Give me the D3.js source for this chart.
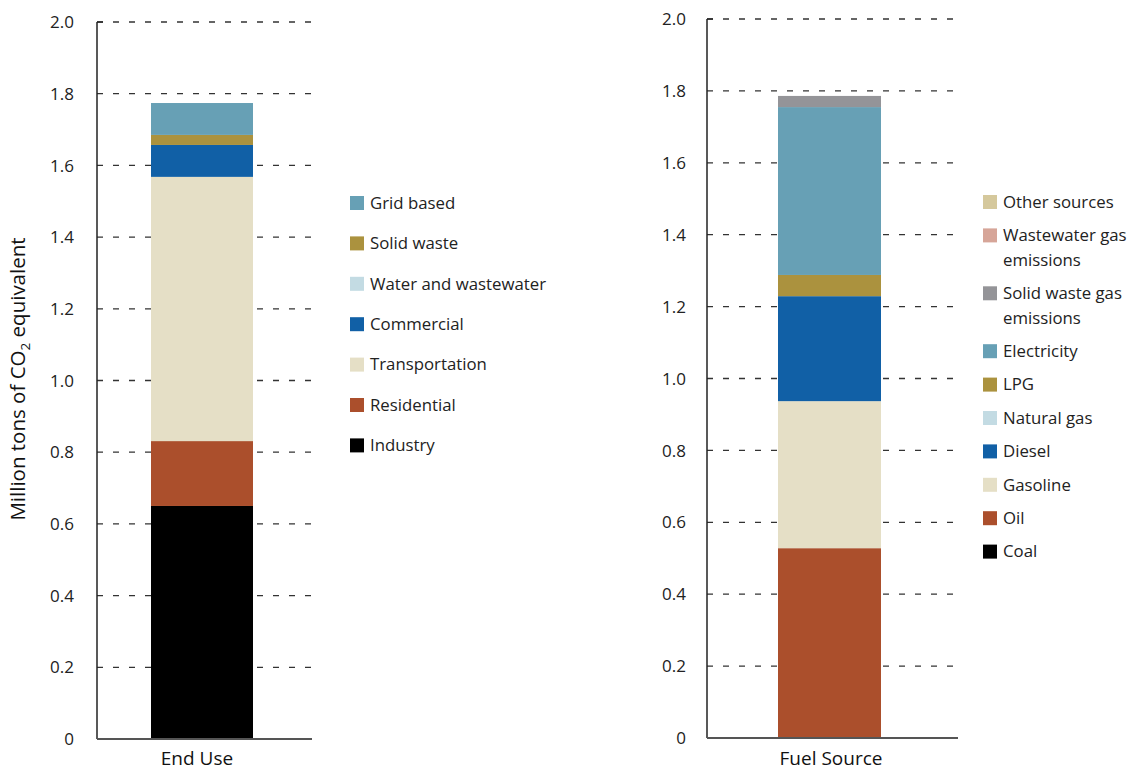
<!DOCTYPE html>
<html>
<head>
<meta charset="utf-8">
<script src="https://cdn.jsdelivr.net/npm/d3@7"></script>
<style>
  body { margin: 0; background: #fff; }
  svg { display: block; font-family: "Open Sans", "Noto Sans", sans-serif; }
  .tick-label { font-size: 17px; fill: #222; }
  .legend-label { font-size: 16.8px; fill: #222; }
  .cat-label { font-size: 19px; fill: #111; }
  .grid { stroke: #333; stroke-width: 1.3; stroke-dasharray: 6 10; }
</style>
</head>
<body>
<svg id="chart" width="1132" height="772"></svg>
<script>
// ---- data ----
const yTicks = [0, 0.2, 0.4, 0.6, 0.8, 1.0, 1.2, 1.4, 1.6, 1.8, 2.0];

// End Use (bottom to top)
const endUseKeys   = ['Industry', 'Residential', 'Transportation', 'Commercial', 'Water and wastewater', 'Solid waste', 'Grid based'];
const endUseValues = [0.650, 0.181, 0.737, 0.089, 0.0, 0.028, 0.089];
const endUseColors = ['#000000', '#ab4f2c', '#e5dfc6', '#1160a6', '#c3dbe3', '#ab923e', '#67a0b5'];

// Fuel Source (bottom to top)
const fuelKeys   = ['Coal', 'Oil', 'Gasoline', 'Diesel', 'Natural gas', 'LPG', 'Electricity', 'Solid waste gas emissions', 'Wastewater gas emissions', 'Other sources'];
const fuelLabels = [['Coal'], ['Oil'], ['Gasoline'], ['Diesel'], ['Natural gas'], ['LPG'], ['Electricity'], ['Solid waste gas', 'emissions'], ['Wastewater gas', 'emissions'], ['Other sources']];
const fuelValues = [0.0, 0.528, 0.409, 0.292, 0.0, 0.059, 0.467, 0.031, 0.0, 0.0];
const fuelColors = ['#000000', '#ab4f2c', '#e5dfc6', '#1160a6', '#c3dbe3', '#ab923e', '#67a0b5', '#949498', '#d6a598', '#d5c89c'];

const svg = d3.select('#chart');

function drawPanel(opts) {
  const g = svg.append('g');
  const y = d3.scaleLinear().domain([0, 2]).range([opts.bottom, opts.top]);
  const x = d3.scaleBand().domain([opts.category]).range(opts.barRange).padding(0);

  // dashed gridlines
  g.selectAll('.grid')
    .data(yTicks.filter(d => d > 0))
    .join('line')
    .attr('class', 'grid')
    .attr('x1', opts.left).attr('x2', opts.gridRight)
    .attr('y1', d => y(d)).attr('y2', d => y(d));

  // stacked bar
  const stacked = d3.stack().keys(d3.range(opts.values.length))([opts.values]);
  g.selectAll('.seg')
    .data(stacked)
    .join('rect')
    .attr('class', 'seg')
    .attr('x', x(opts.category))
    .attr('width', x.bandwidth())
    .attr('y', d => y(d[0][1]))
    .attr('height', d => y(d[0][0]) - y(d[0][1]))
    .attr('fill', (d, i) => opts.colors[i]);

  // axes
  g.append('line')
    .attr('x1', opts.left).attr('x2', opts.left)
    .attr('y1', y(2)).attr('y2', y(0))
    .attr('stroke', '#222').attr('stroke-width', 1.5);
  g.append('line')
    .attr('x1', opts.left).attr('x2', opts.right)
    .attr('y1', y(0)).attr('y2', y(0))
    .attr('stroke', '#555').attr('stroke-width', 2);
  g.append('line')
    .attr('x1', opts.left).attr('x2', opts.left + 6)
    .attr('y1', y(2)).attr('y2', y(2))
    .attr('stroke', '#222').attr('stroke-width', 1.3);

  g.selectAll('.tick-label')
    .data(yTicks)
    .join('text')
    .attr('class', 'tick-label')
    .attr('x', opts.labelRight)
    .attr('y', d => y(d))
    .attr('dy', '0.36em')
    .attr('text-anchor', 'end')
    .text(d => d === 0 ? '0' : d3.format('.1f')(d));

  g.append('text')
    .attr('class', 'cat-label')
    .attr('x', opts.catX)
    .attr('y', 765)
    .attr('text-anchor', 'middle')
    .text(opts.category);

  // legend (top item first)
  const items = opts.keys.map((k, i) => ({ lines: opts.labels[i], color: opts.colors[i] })).reverse();
  let ly = opts.legendTop;
  items.forEach(it => {
    const lg = g.append('g').attr('transform', `translate(${opts.legendX},${ly})`);
    lg.append('rect').attr('x', 0).attr('y', -7).attr('width', 14).attr('height', 14).attr('fill', it.color);
    lg.append('text')
      .attr('class', 'legend-label')
      .attr('x', 20)
      .selectAll('tspan')
      .data(it.lines)
      .join('tspan')
      .attr('x', 20)
      .attr('y', (d, j) => j * opts.lineH)
      .attr('dy', '0.35em')
      .text(d => d);
    ly += opts.itemGap + (it.lines.length - 1) * opts.lineH;
  });
}

drawPanel({
  category: 'End Use', keys: endUseKeys, labels: endUseKeys.map(d => [d]),
  values: endUseValues, colors: endUseColors,
  left: 97, right: 312, gridRight: 313, top: 22, bottom: 739, barRange: [151, 253],
  labelRight: 74, catX: 197,
  legendX: 350, legendTop: 203, itemGap: 40.4, lineH: 24
});

drawPanel({
  category: 'Fuel Source', keys: fuelKeys, labels: fuelLabels,
  values: fuelValues, colors: fuelColors,
  left: 707, right: 958, gridRight: 955, top: 19, bottom: 738, barRange: [778, 881],
  labelRight: 686, catX: 831,
  legendX: 983, legendTop: 202, itemGap: 33.4, lineH: 24.5
});

// y-axis title
svg.append('text')
  .attr('transform', 'translate(25,379) rotate(-90)')
  .attr('text-anchor', 'middle')
  .style('font-size', '20.5px')
  .style('fill', '#111')
  .html('Million tons of CO<tspan dy="5" font-size="13.5">2</tspan><tspan dy="-5"> equivalent</tspan>');
</script>
</body>
</html>
